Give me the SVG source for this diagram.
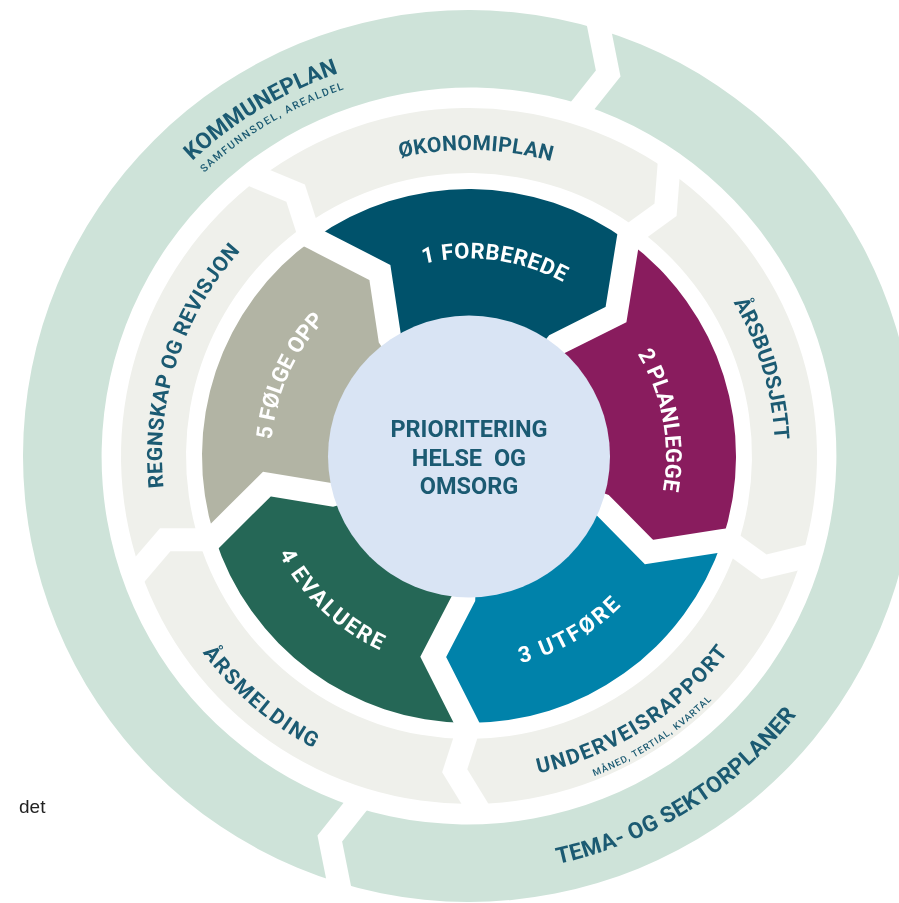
<svg xmlns="http://www.w3.org/2000/svg" width="899" height="903" viewBox="0 0 899 903">
<style>
.t{font-family:Roboto,"Liberation Sans",Arial,sans-serif;font-weight:700;text-anchor:middle}
.w{fill:#ffffff;font-size:22px}
.d{fill:#1B5A72;font-size:21px}
.o{fill:#1B5A72;font-size:22.5px}
.s{fill:#1B5A72;font-size:10.5px;font-weight:500}
.gap{fill:none;stroke:#000;stroke-width:23;stroke-linejoin:miter}
</style>
<defs>
<path id="segInner" d="M469,189 A267,267 0 0 1 722.93,373.49 L670.81,426.20 L605.22,415.91 L555.34,430.59 A90,90 0 0 0 471.51,366.04 L472.96,314.06 L503.02,254.86 Z"/>
<path id="segMid" d="M469,108 A348,348 0 0 1 799.97,348.46 L774.10,377.66 L740.76,377.05 A283,283 0 0 0 477.89,173.14 L488.78,141.62 Z"/>
<path id="segOuter" d="M469,10 A446,446 0 0 1 469,902 L447.70,862.44 L462.56,824.94 A369,369 0 0 0 475.44,87.06 L490.30,49.56 Z"/>
<polyline id="gapI" points="465.6,182.41 469,189 503.02,254.86 472.96,314.06 471.51,366.04"/>
<polyline id="gapM" points="463.07,97.91 469,108 488.78,141.62 477.89,173.14 475.71,179.44"/>
<polyline id="gapO" points="462.61,-1.87 469,10 490.30,49.56 475.44,87.06 470.98,98.31"/>
<mask id="mI" maskUnits="userSpaceOnUse" x="0" y="0" width="899" height="903">
<rect x="0" y="0" width="899" height="903" fill="#fff"/>
<g class="gap">
<use href="#gapI" transform="rotate(324.5 469 456)"/>
<use href="#gapI" transform="rotate(36.5 469 456)"/>
<use href="#gapI" transform="rotate(108.5 469 456)"/>
<use href="#gapI" transform="rotate(180.5 469 456)"/>
<use href="#gapI" transform="rotate(252.5 469 456)"/>
</g>
</mask>
<mask id="mM" maskUnits="userSpaceOnUse" x="0" y="0" width="899" height="903">
<rect x="0" y="0" width="899" height="903" fill="#fff"/>
<g class="gap">
<use href="#gapM" transform="rotate(251 469 456)"/>
<use href="#gapM" transform="rotate(323 469 456)"/>
<use href="#gapM" transform="rotate(35 469 456)"/>
<use href="#gapM" transform="rotate(107 469 456)"/>
<use href="#gapM" transform="rotate(179 469 456)"/>
</g>
</mask>
<mask id="mO" maskUnits="userSpaceOnUse" x="0" y="0" width="899" height="903">
<rect x="0" y="0" width="899" height="903" fill="#fff"/>
<g class="gap">
<use href="#gapO" transform="rotate(17 469 456)"/>
<use href="#gapO" transform="rotate(197 469 456)"/>
</g>
</mask>
<path id="pL1" d="M312.31,335.77 A197.5,197.5 0 0 1 651.47,380.42"/>
<path id="pL2" d="M534.44,270.19 A197,197 0 0 1 597.20,605.58"/>
<path id="pL3" d="M361.27,640.33 A213.5,213.5 0 0 0 682.50,457.12"/>
<path id="pL4" d="M261.57,405.43 A213.5,213.5 0 0 0 528.92,660.92"/>
<path id="pL5" d="M308.81,572.38 A198,198 0 0 1 448.30,259.08"/>
<path id="pM1" d="M207.54,297.03 A306,306 0 0 1 737.41,309.05"/>
<path id="pM2" d="M539.91,158.33 A306,306 0 0 1 691.33,666.25"/>
<path id="pM3" d="M319.43,744.54 A325,325 0 0 0 793.67,441.26"/>
<path id="pM3s" d="M313.38,762.69 A344,344 0 0 0 812.50,437.41"/>
<path id="pM4" d="M143.86,393.98 A331,331 0 0 0 577.86,768.59"/>
<path id="pM5" d="M240.86,661.42 A307,307 0 0 1 405.17,155.71"/>
<path id="pO1" d="M64.56,463.06 A404.5,404.5 0 0 1 665.11,102.22"/>
<path id="pO1s" d="M81.05,462.09 A388,388 0 0 1 657.11,116.97"/>
<path id="pO2" d="M273.00,824.63 A417.5,417.5 0 0 0 886.25,441.43"/>
</defs>

<g id="ring-outer" mask="url(#mO)">
<g id="kommuneplan">
<use href="#segOuter" transform="rotate(197 469 456)" fill="#CEE3D9"/>
<text class="t o"><textPath href="#pO1" startOffset="50%" textLength="172" lengthAdjust="spacing">KOMMUNEPLAN</textPath></text>
<text class="t s"><textPath href="#pO1s" startOffset="50%" textLength="164" lengthAdjust="spacing">SAMFUNNSDEL, AREALDEL</textPath></text>
</g>
<g id="tema-og-sektorplaner">
<use href="#segOuter" transform="rotate(17 469 456)" fill="#CEE3D9"/>
<text class="t o"><textPath href="#pO2" startOffset="50%" textLength="287" lengthAdjust="spacing">TEMA- OG SEKTORPLANER</textPath></text>
</g>
</g>

<g id="ring-middle" mask="url(#mM)">
<g id="okonomiplan">
<use href="#segMid" transform="rotate(323 469 456)" fill="#EFF0EB"/>
<text class="t d"><textPath href="#pM1" startOffset="50%" textLength="153" lengthAdjust="spacing">ØKONOMIPLAN</textPath></text>
</g>
<g id="arsbudsjett">
<use href="#segMid" transform="rotate(35 469 456)" fill="#EFF0EB"/>
<text class="t d"><textPath href="#pM2" startOffset="50%" textLength="145" lengthAdjust="spacing">ÅRSBUDSJETT</textPath></text>
</g>
<g id="underveisrapport">
<use href="#segMid" transform="rotate(107 469 456)" fill="#EFF0EB"/>
<text class="t d"><textPath href="#pM3" startOffset="50%" textLength="230" lengthAdjust="spacing">UNDERVEISRAPPORT</textPath></text>
<text class="t s" style="font-size:9.5px"><textPath href="#pM3s" startOffset="50%" textLength="141" lengthAdjust="spacing">MÅNED, TERTIAL, KVARTAL</textPath></text>
</g>
<g id="arsmelding">
<use href="#segMid" transform="rotate(179 469 456)" fill="#EFF0EB"/>
<text class="t d"><textPath href="#pM4" startOffset="50%" textLength="148" lengthAdjust="spacing">ÅRSMELDING</textPath></text>
</g>
<g id="regnskap-og-revisjon">
<use href="#segMid" transform="rotate(251 469 456)" fill="#EFF0EB"/>
<text class="t d"><textPath href="#pM5" startOffset="50%" textLength="256" lengthAdjust="spacing">REGNSKAP OG REVISJON</textPath></text>
</g>
</g>

<g id="ring-inner" mask="url(#mI)">
<g id="step1-forberede">
<use href="#segInner" transform="rotate(324.5 469 456)" fill="#00526B"/>
<text class="t w"><textPath href="#pL1" startOffset="50%" textLength="144" lengthAdjust="spacing">1 FORBEREDE</textPath></text>
</g>
<g id="step2-planlegge">
<use href="#segInner" transform="rotate(36.5 469 456)" fill="#891C5E"/>
<text class="t w"><textPath href="#pL2" startOffset="50%" textLength="142" lengthAdjust="spacing">2 PLANLEGGE</textPath></text>
</g>
<g id="step3-utfore">
<use href="#segInner" transform="rotate(108.5 469 456)" fill="#0082AA"/>
<text class="t w"><textPath href="#pL3" startOffset="50%" textLength="117" lengthAdjust="spacing">3 UTFØRE</textPath></text>
</g>
<g id="step4-evaluere">
<use href="#segInner" transform="rotate(180.5 469 456)" fill="#256756"/>
<text class="t w"><textPath href="#pL4" startOffset="50%" textLength="142" lengthAdjust="spacing">4 EVALUERE</textPath></text>
</g>
<g id="step5-folge-opp">
<use href="#segInner" transform="rotate(252.5 469 456)" fill="#B2B4A4"/>
<text class="t w"><textPath href="#pL5" startOffset="50%" textLength="133" lengthAdjust="spacing">5 FØLGE OPP</textPath></text>
</g>
</g>

<g id="center">
<circle cx="469" cy="456.5" r="141" fill="#D9E4F4"/>
<text class="t" fill="#1B5A72" font-size="23.5" x="469" y="437">PRIORITERING</text>
<text class="t" fill="#1B5A72" font-size="23.5" x="469" y="466" word-spacing="6">HELSE OG</text>
<text class="t" fill="#1B5A72" font-size="23.5" x="469" y="494">OMSORG</text>
</g>

<text x="19" y="813" font-family="'Liberation Sans',Arial,sans-serif" font-size="19" fill="#222">det</text>
</svg>
